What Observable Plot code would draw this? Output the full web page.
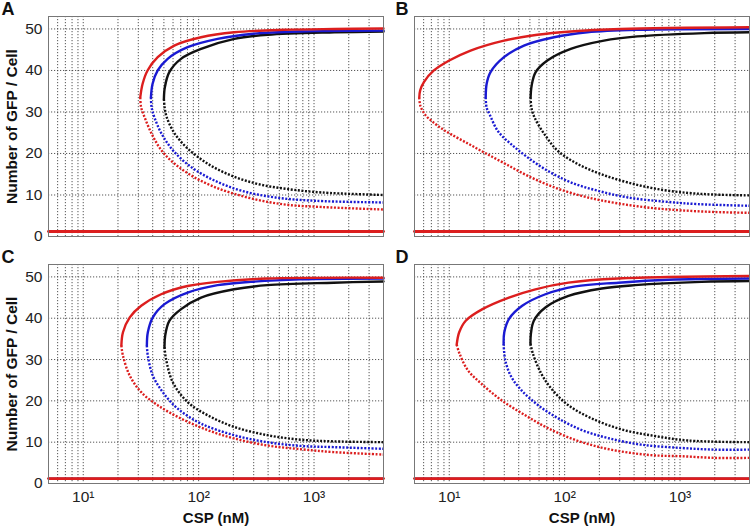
<!DOCTYPE html>
<html>
<head>
<meta charset="utf-8">
<script src="https://cdn.jsdelivr.net/npm/d3@7"></script>
<script src="https://cdn.jsdelivr.net/npm/@observablehq/plot@0.6"></script>
<style>
  html, body { margin: 0; padding: 0; background: #fff; }
  #wrap { position: relative; width: 750px; height: 532px; overflow: hidden; font-family: "Liberation Sans", Arial, sans-serif; }
  .panel { position: absolute; }
  .panel svg { overflow: visible; }
</style>
</head>
<body>
<div id="wrap"></div>
<script>
// ---------- data ----------
const panels = ["A", "B", "C", "D"];
const seriesColors = ["black", "blue", "red"];
const colorValues = {black: "#111111", blue: "#1a1ad2", red: "#dc1e1e"};
const xDomain = [5, 4000];
const yDomain = [0, 53];
const xGridTicks = [6,7,8,9,10,20,30,40,50,60,70,80,90,100,200,300,400,500,600,700,800,900,1000,2000,3000];
const yTickValues = [0, 10, 20, 30, 40, 50];
const yGridTicks = [10, 20, 30, 40, 50];
const xTickValues = [10, 100, 1000];
const xTickLabels = ["10\u00b9", "10\u00b2", "10\u00b3"];
const lowBranchX = [5, 4000];
const lowBranchY = 1.2;

// [CSP (nM), GFP/cell] -- stable (solid) upper branch and unstable (dotted) branch, from the fold point outwards
const A_red_stable = [[31.2,33.5],[32.7,36.8],[36.1,40.0],[44.2,43.2],[61.5,46.0],[105,48.0],[204,49.2],[553,49.8],[1500,50.0],[4000,50.1]];
const A_red_unstable = [[31.2,33.5],[31.7,31.2],[33.3,29.4],[39.4,24.6],[48.1,20.6],[62.7,17.4],[87.5,14.6],[130,12.2],[208,10.2],[354,8.6],[603,7.6],[1172,7.1],[4000,6.5]];
const A_blue_stable = [[38.6,33.5],[39.9,36.8],[44.2,40.0],[53.9,42.8],[80.3,45.6],[146,47.6],[284,48.8],[771,49.4],[4000,49.6]];
const A_blue_unstable = [[38.6,33.5],[39.2,31.0],[41.5,28.6],[48.1,24.6],[60.6,20.6],[87.5,16.6],[139,13.4],[237,11.0],[461,9.4],[1026,8.6],[4000,8.2]];
const A_black_stable = [[50.0,33.1],[51.0,36.0],[55.7,39.6],[70.3,42.8],[105,45.2],[204,47.6],[396,48.6],[1500,49.2],[4000,49.4]];
const A_black_unstable = [[50.0,33.1],[50.8,31.0],[53.1,28.6],[62.7,24.6],[81.9,21.0],[122,17.4],[195,14.6],[331,12.6],[603,11.4],[1172,10.6],[4000,10.0]];

const B_red_stable = [[5.5,33.5],[5.6,35.2],[6.03,37.2],[7.36,40.0],[10,42.4],[15.3,44.8],[29.8,47.2],[58,48.6],[113,49.4],[306,50.0],[4000,50.4]];
const B_red_unstable = [[5.5,33.5],[5.62,31.5],[6.2,29.3],[7.2,27.6],[8.6,26.0],[10.4,24.6],[14.5,22.4],[20.2,20.2],[30.2,17.6],[48.1,14.6],[81.9,11.8],[140,9.8],[208,8.7],[354,7.6],[604,6.8],[1028,6.3],[2000,5.9],[4000,5.7]];
const B_blue_stable = [[20.7,33.5],[21.1,36.8],[22.8,39.6],[29.8,43.2],[44.4,46.0],[80.9,48.0],[157,49.2],[427,49.8],[4000,50.0]];
const B_blue_unstable = [[20.7,33.5],[21.1,31.0],[22.4,29.4],[26.4,25.4],[34.5,22.2],[48.1,19.0],[71.6,15.8],[114,13.0],[195,11.0],[354,9.4],[736,8.4],[1433,7.8],[4000,7.4]];
const B_black_stable = [[50.7,33.5],[51.8,36.4],[56.1,39.6],[70.8,42.4],[113,45.2],[219,47.2],[427,48.2],[1615,49.0],[4000,49.2]];
const B_black_unstable = [[50.7,33.5],[51.6,31.0],[55,28.6],[67,24.6],[87.5,20.6],[131,17.4],[208,15.0],[354,13.0],[645,11.4],[1174,10.5],[2000,10.1],[4000,9.9]];

const C_red_stable = [[21.4,33.4],[22.1,36.6],[25.3,40.2],[31.8,43.0],[47.3,45.8],[80.3,47.8],[146,48.8],[393,49.6],[4000,49.8]];
const C_red_unstable = [[21.4,33.4],[22.1,30.9],[25.3,26.1],[31.8,22.1],[44.4,18.9],[70.5,15.7],[120,12.9],[203,10.9],[393,9.2],[762,8.3],[1480,7.6],[4000,7.0]];
const C_blue_stable = [[35.6,33.4],[36.3,36.6],[40.1,40.2],[50.6,43.4],[80.3,46.2],[146,48.0],[283,48.8],[762,49.4],[4000,49.6]];
const C_blue_unstable = [[35.6,33.4],[36.3,30.9],[40.1,26.1],[48.9,22.1],[65.9,18.1],[105,14.5],[203,11.7],[393,10.0],[762,9.1],[1480,8.8],[4000,8.4]];
const C_black_stable = [[50.6,33.0],[51.3,35.8],[55.9,39.4],[70.5,42.2],[105,45.0],[203,47.0],[393,48.0],[1480,48.6],[4000,48.9]];
const C_black_unstable = [[50.6,33.0],[52.2,30.1],[59.7,24.5],[80.3,19.7],[120,16.5],[203,13.7],[393,11.7],[762,10.6],[1480,10.2],[4000,10.0]];

const D_red_stable = [[11.6,33.6],[12.2,36.6],[13.9,39.4],[19.4,42.2],[32.9,45.0],[55.8,47.0],[108,48.6],[292,49.6],[4000,50.2]];
const D_red_unstable = [[11.6,33.6],[12.3,31.4],[14.5,27.4],[18.9,24.2],[28.2,20.2],[45,16.6],[71.6,13.4],[122,10.6],[208,8.7],[354,7.5],[603,6.8],[1026,6.6],[1995,6.2],[4000,6.2]];
const D_blue_stable = [[29.6,33.8],[30.0,36.6],[32.9,39.8],[42.9,43.0],[68.1,45.8],[124,47.7],[292,48.6],[788,49.3],[4000,49.6]];
const D_blue_unstable = [[29.6,33.8],[30.6,29.8],[34.5,25.8],[42.1,22.6],[58.6,19.0],[87.5,15.8],[139,13.0],[237,11.0],[461,9.4],[1026,8.6],[1995,8.2],[4000,8.2]];
const D_black_stable = [[50.6,33.8],[51.0,36.2],[54.1,39.4],[68.1,42.6],[108,45.4],[210,47.2],[407,48.0],[1530,48.8],[4000,49.0]];
const D_black_unstable = [[50.6,33.8],[53.1,31.4],[62.7,26.6],[76.5,23.0],[107,19.0],[170,15.8],[310,13.1],[603,11.5],[1172,10.4],[4000,10.0]];

const curves = {
  A: {red: [A_red_stable, A_red_unstable], blue: [A_blue_stable, A_blue_unstable], black: [A_black_stable, A_black_unstable]},
  B: {red: [B_red_stable, B_red_unstable], blue: [B_blue_stable, B_blue_unstable], black: [B_black_stable, B_black_unstable]},
  C: {red: [C_red_stable, C_red_unstable], blue: [C_blue_stable, C_blue_unstable], black: [C_black_stable, C_black_unstable]},
  D: {red: [D_red_stable, D_red_unstable], blue: [D_blue_stable, D_blue_unstable], black: [D_black_stable, D_black_unstable]}
};

// ---------- layout ----------
const layout = {
  A: {left: 0,   top: 0,   height: 237, mb: 1,  yAxis: true,  xAxis: false, labelDx: -47},
  B: {left: 366, top: 0,   height: 237, mb: 1,  yAxis: false, xAxis: false, labelDx: -19},
  C: {left: 0,   top: 248, height: 284, mb: 49, yAxis: true,  xAxis: true,  labelDx: -47},
  D: {left: 366, top: 248, height: 284, mb: 49, yAxis: false, xAxis: true,  labelDx: -19}
};
const font = '"Liberation Sans", Arial, sans-serif';
const wrap = document.getElementById("wrap");
const gridStyle = {stroke: "#444", strokeOpacity: 0.9, strokeDasharray: "1.2,1.8"};

for (const p of panels) {
  const L = layout[p];
  const stable = [], unstable = [], low = [];
  for (const c of seriesColors) {
    const [s, u] = curves[p][c];
    s.forEach(([x, y]) => stable.push({x, y, c: colorValues[c], id: c}));
    u.forEach(([x, y]) => unstable.push({x, y, c: colorValues[c], id: c}));
    lowBranchX.forEach(x => low.push({x, y: lowBranchY, c: colorValues[c], id: c}));
  }
  const marks = [
    Plot.ruleX(xGridTicks, {x: d => d, ...gridStyle}),
    Plot.ruleY(yGridTicks, {y: d => d, ...gridStyle}),
    Plot.line(low.filter(d => d.id !== "red"), {x: "x", y: "y", z: "id", stroke: "c", strokeWidth: 1.6}),
    Plot.line(low.filter(d => d.id === "red"), {x: "x", y: "y", z: "id", stroke: "c", strokeWidth: 2.8}),
    Plot.line(unstable, {x: "x", y: "y", z: "id", stroke: "c", strokeWidth: 2.4, strokeDasharray: "2,1.6", strokeLinecap: "butt", curve: "catmull-rom"}),
    Plot.line(stable, {x: "x", y: "y", z: "id", stroke: "c", strokeWidth: 2.4, curve: "catmull-rom"}),
    Plot.frame({stroke: "#777", strokeWidth: 1}),
    Plot.text([p], {text: d => d, frameAnchor: "top-left", dx: L.labelDx, dy: -2, lineAnchor: "bottom", textAnchor: "start", fontSize: 18, fontWeight: "bold", fill: "#111"})
  ];
  if (L.yAxis) {
    marks.push(Plot.text(yTickValues, {y: d => d, text: d => String(d), frameAnchor: "left", dx: -6, textAnchor: "end", lineAnchor: "middle", fontSize: 15.5, fill: "#222"}));
    marks.push(Plot.text(["Number of GFP / Cell"], {text: d => d, frameAnchor: "left", dx: -36, rotate: -90, textAnchor: "middle", lineAnchor: "middle", fontSize: 15.5, fontWeight: "bold", fill: "#111"}));
  }
  if (L.xAxis) {
    marks.push(Plot.text(xTickValues, {x: d => d, text: d => xTickLabels[xTickValues.indexOf(d)], frameAnchor: "bottom", dy: 7, lineAnchor: "top", textAnchor: "middle", fontSize: 15.5, fill: "#222"}));
    marks.push(Plot.text(["CSP (nM)"], {text: d => d, frameAnchor: "bottom", dy: 35, textAnchor: "middle", lineAnchor: "middle", fontSize: 15, fontWeight: "bold", fill: "#111"}));
  }
  const chart = Plot.plot({
    width: 384,
    height: L.height,
    marginLeft: 48,
    marginRight: 1,
    marginTop: 16,
    marginBottom: L.mb,
    style: {fontFamily: font, background: "transparent"},
    x: {type: "log", domain: xDomain, axis: null},
    y: {domain: yDomain, axis: null},
    marks
  });
  const div = document.createElement("div");
  div.className = "panel";
  div.style.left = L.left + "px";
  div.style.top = L.top + "px";
  div.appendChild(chart);
  wrap.appendChild(div);
}
</script>
</body>
</html>
